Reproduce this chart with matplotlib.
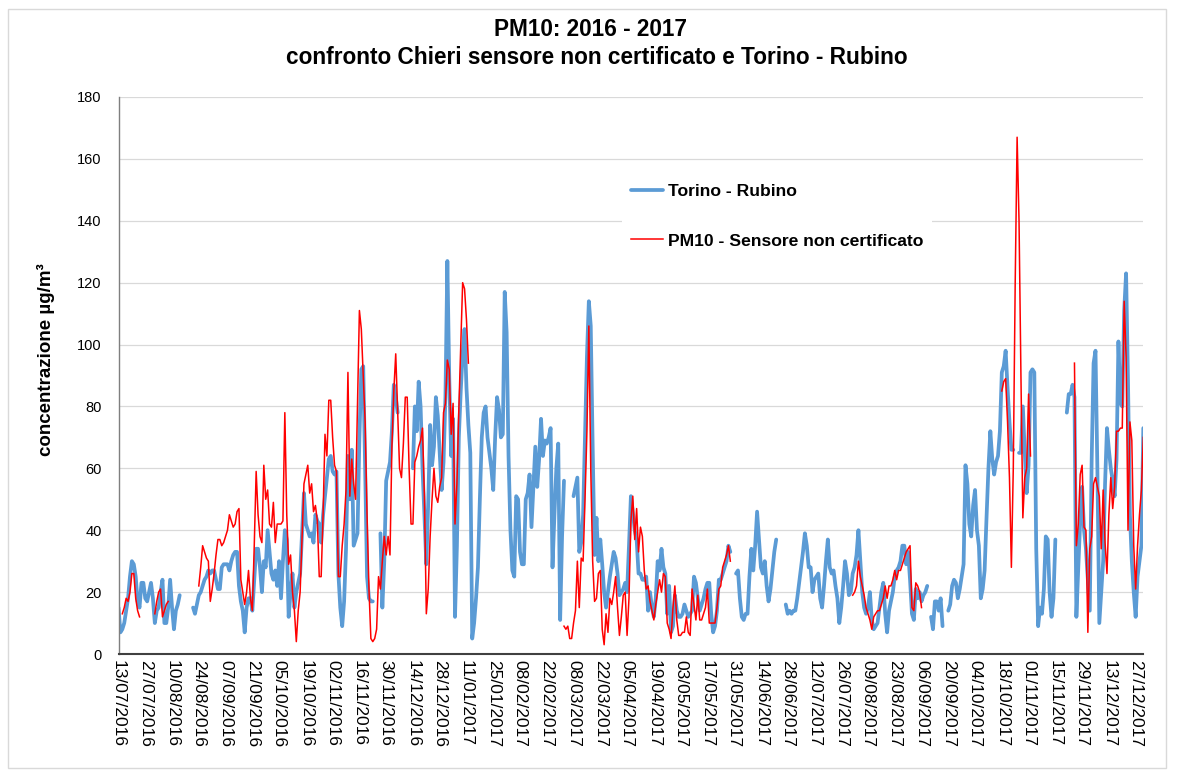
import numpy as np
import pandas as pd
import matplotlib
matplotlib.use("Agg")
import matplotlib.pyplot as plt
from matplotlib.patches import Rectangle

N = np.nan

# Daily series, first day 13/07/2016 (one row = 14 days)
start_date = "2016-07-13"

torino_rubino = (
    [15, 7, 8, 10, 14, 18, 25, 30, 29, 25, 17, 15, 23, 23]
    + [18, 17, 20, 23, 18, 10, 14, 15, 20, 24, 10, 10, 15, 24]
    + [15, 8, 14, 16, 19, N, N, N, N, N, N, 15, 13, 16]
    + [19, 20, 22, 24, 25, 27, 26, 27, 27, 24, 21, 21, 28, 29]
    + [29, 29, 27, 30, 32, 33, 33, 22, 17, 14, 7, 15, 18, 18]
    + [14, 24, 34, 34, 28, 20, 30, 28, 40, 33, 26, 24, 27, 22]
    + [30, 18, 30, 40, 37, 12, 20, 26, 15, 20, 23, 26, 39, 52]
    + [42, 40, 38, 39, 36, 45, 43, 42, 36, 45, 51, 57, 63, 64]
    + [59, 58, 59, 26, 15, 9, 17, 34, 64, 50, 66, 35, 37, 39]
    + [70, 92, 93, 60, 25, 18, 17, 17, N, N, N, 39, 15, 30]
    + [56, 59, 62, 72, 87, 83, 78, N, N, N, N, N, N, N]
    + [60, 80, 72, 88, 80, 60, 45, 29, 49, 74, 61, 67, 83, 77]
    + [65, 53, 62, 83, 127, 89, 64, 76, 12, 35, 70, 85, 97, 105]
    + [86, 74, 65, 5, 10, 18, 28, 50, 70, 78, 80, 70, 65, 60]
    + [53, 70, 83, 79, 70, 71, 117, 104, 64, 40, 27, 25, 51, 50]
    + [33, 29, 29, 50, 52, 58, 41, 54, 67, 54, 63, 76, 64, 69]
    + [68, 70, 73, 28, 45, 60, 68, 11, 38, 56, N, N, N, N]
    + [51, 54, 57, 33, 36, 45, 71, 96, 114, 106, 67, 32, 44, 30]
    + [37, 29, 20, 15, 20, 25, 29, 33, 31, 26, 19, 20, 21, 23]
    + [20, 35, 51, 46, 40, 37, 26, 26, 24, 24, 25, 14, 20, 15]
    + [12, 18, 30, 27, 34, 28, 26, 13, 22, 7, 9, 19, 14, 12]
    + [12, 13, 16, 14, 12, 13, 14, 25, 23, 18, 14, 16, 18, 21]
    + [23, 23, 13, 7, 9, 14, 24, 24, 26, 28, 30, 35, 33, N]
    + [N, 26, 27, 18, 12, 11, 13, 13, 25, 34, 27, 35, 46, 37]
    + [28, 26, 30, 22, 17, 21, 27, 33, 37, N, N, N, N, 16]
    + [13, 14, 13, 14, 14, 18, 23, 28, 33, 39, 35, 28, 28, 20]
    + [24, 25, 26, 18, 15, 22, 30, 37, 28, 26, 27, 22, 18, 10]
    + [15, 22, 30, 26, 19, 20, 26, 28, 32, 40, 30, 20, 15, 13]
    + [15, 20, 11, 8, 9, 10, 15, 20, 23, 13, 7, 14, 17, 20]
    + [25, 27, 28, 30, 35, 35, 29, 33, 24, 13, 11, 21, 18, 20]
    + [17, 19, 20, 22, N, 12, 8, 17, 17, 14, 18, 9, N, N]
    + [14, 16, 22, 24, 23, 18, 21, 25, 29, 61, 55, 42, 38, 48]
    + [53, 40, 35, 18, 21, 27, 44, 60, 72, 63, 58, 62, 64, 72]
    + [91, 93, 98, 86, 75, 66, 66, N, N, 65, 65, 80, 65, 52]
    + [61, 91, 92, 91, 34, 9, 15, 13, 21, 38, 37, 20, 12, 18]
    + [37, N, N, N, N, N, 78, 84, 84, 87, 83, 12, 28, 43]
    + [54, 40, 34, 24, 14, 63, 94, 98, 59, 10, 20, 30, 55, 73]
    + [66, 60, 56, 51, 63, 101, 81, 80, 111, 123, 88, 45, 30, 20]
    + [12, 25, 30, 35, 73]
)

sensore_pm10 = (
    [N, N, 13, 15, 18, 17, 20, 26, 26, 18, 14, 12, N, N]
    + [N, N, N, N, N, 13, 17, 20, 21, 12, 14, 16, 17, N]
    + [N] * 14
    + [22, 28, 35, 33, 31, 30, 17, 21, 26, 32, 37, 37, 35, 36]
    + [38, 40, 45, 43, 41, 42, 46, 47, 24, 20, 16, 20, 27, 18]
    + [14, 35, 59, 45, 38, 36, 61, 50, 53, 42, 41, 49, 36, 42]
    + [42, 42, 43, 78, 45, 29, 32, 20, 14, 4, 14, 20, 38, 55]
    + [58, 61, 52, 55, 46, 48, 43, 25, 25, 45, 71, 64, 82, 82]
    + [70, 61, 59, 25, 25, 35, 42, 53, 91, 51, 63, 55, 50, 80]
    + [111, 105, 90, 75, 45, 21, 5, 4, 5, 8, 25, 21, 30, 38]
    + [32, 38, 32, 67, 85, 97, 78, 60, 57, 68, 83, 83, 60, 42]
    + [42, 62, 64, 67, 69, 73, 51, 13, 21, 38, 50, 60, 51, 49]
    + [54, 57, 78, 81, 95, 92, 71, 81, 42, 55, 79, 100, 120, 118]
    + [108, 94] + [N] * 12
    + [N] * 14
    + [N] * 14
    + [N] * 9 + [9, 8, 9, 5, 5]
    + [10, 14, 30, 15, 31, 30, 50, 72, 106, 60, 30, 17, 18, 26]
    + [27, 8, 3, 13, 7, 18, 16, 20, 25, 15, 6, 12, 19, 20]
    + [6, 18, 43, 51, 37, 47, 33, 41, 38, 27, 21, 22, 17, 14]
    + [11, 16, 20, 24, 20, 26, 25, 10, 8, 5, 15, 22, 11, 6]
    + [6, 7, 7, 12, 7, 6, 21, 16, 11, 19, 11, 11, 13, 15]
    + [21, 10, 10, 10, 10, 15, 21, 22, 28, 30, 32, 35, 30, N]
    + [N] * 14
    + [N] * 14
    + [N] * 14
    + [N] * 14
    + [N] * 6 + [19, 20, 22, 30, 25, 22, 19, 15]
    + [13, 11, 8, 12, 13, 14, 14, 16, 18, 22, 18, 22, 22, 24]
    + [27, 24, 27, 27, 29, 31, 33, 34, 35, 15, 14, 23, 22, 20]
    + [15] + [N] * 13
    + [N] * 14
    + [N] * 14
    + [85, 88, 89, 75, 57, 28, 60, 120, 167, 140, 90, 44, 57, 60]
    + [84, 64] + [N] * 12
    + [N] * 10 + [94, 35, 42, 58]
    + [61, 41, 40, 7, 34, 38, 55, 57, 54, 51, 34, 53, 36, 26]
    + [45, 57, 47, 54, 72, 72, 73, 73, 114, 96, 40, 75, 69, 35]
    + [21, 35, 45, 53, 70]
)

tick_labels = [
    "13/07/2016", "27/07/2016", "10/08/2016", "24/08/2016", "07/09/2016",
    "21/09/2016", "05/10/2016", "19/10/2016", "02/11/2016", "16/11/2016",
    "30/11/2016", "14/12/2016", "28/12/2016", "11/01/2017", "25/01/2017",
    "08/02/2017", "22/02/2017", "08/03/2017", "22/03/2017", "05/04/2017",
    "19/04/2017", "03/05/2017", "17/05/2017", "31/05/2017", "14/06/2017",
    "28/06/2017", "12/07/2017", "26/07/2017", "09/08/2017", "23/08/2017",
    "06/09/2017", "20/09/2017", "04/10/2017", "18/10/2017", "01/11/2017",
    "15/11/2017", "29/11/2017", "13/12/2017", "27/12/2017",
]

series_names = ["Torino - Rubino", "PM10 - Sensore non certificato"]
title_lines = ["PM10: 2016 - 2017",
               "confronto Chieri sensore non certificato e Torino - Rubino"]
y_label = "concentrazione µg/m³"

plt.rcParams["font.family"] = ["Liberation Sans", "DejaVu Sans"]

W, H = 1178, 773
fig = plt.figure(figsize=(W / 100, H / 100), dpi=100)
fig.patch.set_facecolor("white")

# outer chart frame
fig.patches.append(Rectangle((8 / W, 1 - 768 / H), (1166 - 8) / W, (768 - 9) / H,
                             transform=fig.transFigure, fill=False,
                             edgecolor="#D9D9D9", linewidth=1.0))

x0, x1, ytop, ybot = 118.5, 1143.3, 97, 654
ax = fig.add_axes([x0 / W, 1 - ybot / H, (x1 - x0) / W, (ybot - ytop) / H])

dates = pd.date_range(start_date, periods=len(torino_rubino), freq="D")
ax.plot(dates, np.array(torino_rubino, dtype=float), color="#5B9BD5",
        linewidth=2.7, solid_joinstyle="round", solid_capstyle="round",
        label=series_names[0], zorder=2)
ax.plot(dates, np.array(sensore_pm10, dtype=float), color="#FF0000",
        linewidth=1.1, label=series_names[1], zorder=3)

ax.set_xlim(dates[0], dates[-1])
ax.set_ylim(0, 180)
ax.set_yticks(np.arange(0, 181, 20))
ax.yaxis.grid(True, color="#D9D9D9", linewidth=0.9)
ax.set_axisbelow(True)

tick_pos = pd.to_datetime(tick_labels, format="%d/%m/%Y")
ax.set_xticks(tick_pos)
ax.set_xticklabels(tick_labels, rotation=270, ha="center", va="top", fontsize=12.5)
ax.tick_params(axis="x", length=0, pad=4)
ax.tick_params(axis="y", length=0, pad=12, labelsize=10.5)

for side in ("top", "right"):
    ax.spines[side].set_visible(False)
ax.spines["left"].set_color("#7F7F7F")
ax.spines["left"].set_linewidth(1.0)
ax.spines["bottom"].set_color("#404040")
ax.spines["bottom"].set_linewidth(1.5)

fig.text(590 / W, 1 - 29 / H, title_lines[0], ha="center", va="center",
         fontsize=16.3, fontweight="bold")
fig.text(597 / W, 1 - 58 / H, title_lines[1], ha="center", va="center",
         fontsize=16.3, fontweight="bold")
fig.text(46 / W, 1 - 360 / H, y_label, rotation=90, ha="center", va="center",
         fontsize=13.5, fontweight="bold")

leg = ax.legend(loc="center", bbox_to_anchor=(777 / W, 1 - 216 / H),
                bbox_transform=fig.transFigure, frameon=True, fancybox=False,
                facecolor="white", edgecolor="none", framealpha=1.0,
                prop={"size": 12.6, "weight": "bold"}, handlelength=1.85,
                handletextpad=0.25, labelspacing=1.98, borderpad=0.5)

fig.savefig("out.png", dpi=100, facecolor="white")
